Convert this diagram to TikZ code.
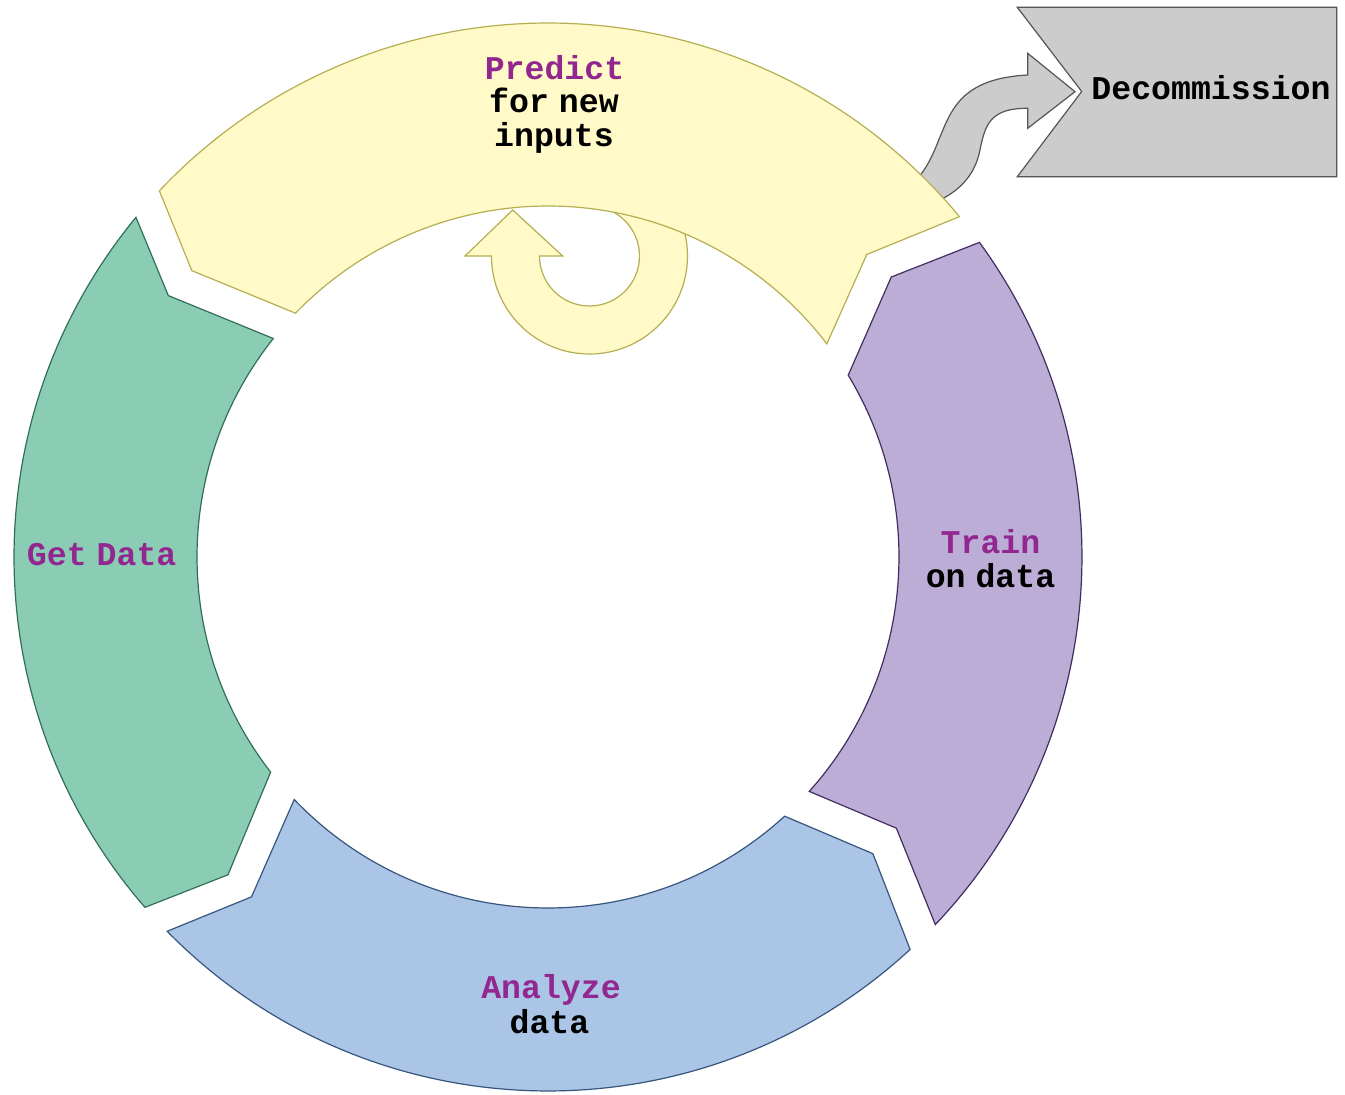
\documentclass[tikz,border=0pt]{standalone}
\usepackage{fontspec}
\newfontfamily\labelfont{Liberation Mono}[WordSpace=0.5]
\definecolor{yfill}{RGB}{255,250,200}
\definecolor{yline}{RGB}{180,175,80}
\definecolor{gfill}{RGB}{138,205,180}
\definecolor{gline}{RGB}{50,110,85}
\definecolor{bfill}{RGB}{171,197,230}
\definecolor{bline}{RGB}{55,85,125}
\definecolor{pfill}{RGB}{188,173,214}
\definecolor{pline}{RGB}{65,45,95}
\definecolor{kfill}{RGB}{204,204,204}
\definecolor{kline}{RGB}{85,85,85}
\definecolor{titlecol}{RGB}{146,39,143}
\begin{document}
\begin{tikzpicture}[x=0.5pt,y=0.5pt,
  seg/.style={line width=0.6pt, line join=miter},
  title/.style={text=titlecol, font=\labelfont\bfseries\fontsize{16.6}{17}\selectfont, inner sep=0pt, anchor=base},
  sub/.style={title, text=black},
  px/.style={shift={(-548,557)}, yscale=-1}]
\useasboundingbox (-548,-537) rectangle (797,557);

% curved exit arrow towards the decommission box (lies under the predict band)
\begin{scope}[px]
\path[seg, fill=kfill, draw=kline]
  (918,178) .. controls (952,138) and (935,80) .. (1027.7,75)
  -- (1027.7,53.3) -- (1075,91.7) -- (1027.7,128.3) -- (1027.7,108.3)
  .. controls (990,108) and (985,125) .. (980,150)
  .. controls (975,175) and (960,190) .. (940,200) -- cycle;
\path[seg, fill=kfill, draw=kline]
  (1017.3,7.3) -- (1336.7,7.3) -- (1336.7,176.7) -- (1017.3,176.7) -- (1081.7,91.5) -- cycle;
\node[sub] (decom) at (1211,99.3) {Decommission};
\end{scope}

% self loop under the predict band
\begin{scope}[shift={(41.5,301)}]
\path[seg, fill=yfill, draw=yline]
  (180:98) arc[start angle=180, end angle=450, radius=98]
  -- (450:50) arc[start angle=450, end angle=180, radius=50]
  -- (-26.8,0) -- (-76.8,46) -- (-124.5,0) -- cycle;
\end{scope}

% ring of four curved arrows
\path[seg, fill=yfill, draw=yline]
  (39.6:534) arc[start angle=39.6, end angle=136.7, radius=534]
  -- (141.2:457) -- (136.0:351) arc[start angle=136.0, end angle=37.4, radius=351]
  -- (43.5:439.5) -- cycle;
\path[seg, fill=gfill, draw=gline]
  (140.5:534) arc[start angle=140.5, end angle=221.0, radius=534]
  -- (224.8:451) -- (217.8:351) arc[start angle=217.8, end angle=141.5, radius=351]
  -- (145.45:461) -- cycle;
\path[seg, fill=bfill, draw=bline]
  (224.5:534) arc[start angle=224.5, end angle=312.7, radius=534]
  -- (317.6:440) -- (312.4:351) arc[start angle=312.4, end angle=223.7, radius=351]
  -- (228.9:451) -- cycle;
\path[seg, fill=pfill, draw=pline]
  (316.5:534) arc[start angle=316.5, end angle=396.1, radius=534]
  -- (399.2:443) -- (391.2:351) arc[start angle=391.2, end angle=318.1, radius=351]
  -- (322.1:441.5) -- cycle;

% labels
\begin{scope}[px]
\node[title] (predict) at (554.5,79.3) {Predict};
\node[sub] (predict2) at (554,112.7) {for new};
\node[sub] (predict3) at (554,146) {inputs};
\node[title] (getdata) at (101.7,565) {Get Data};
\node[title] (train) at (990.5,553.3) {Train};
\node[sub] (train2) at (990.5,587) {on data};
\node[title] (analyze) at (551,998.3) {Analyze};
\node[sub] (analyze2) at (549.5,1033) {data};
\end{scope}
\end{tikzpicture}
\end{document}
